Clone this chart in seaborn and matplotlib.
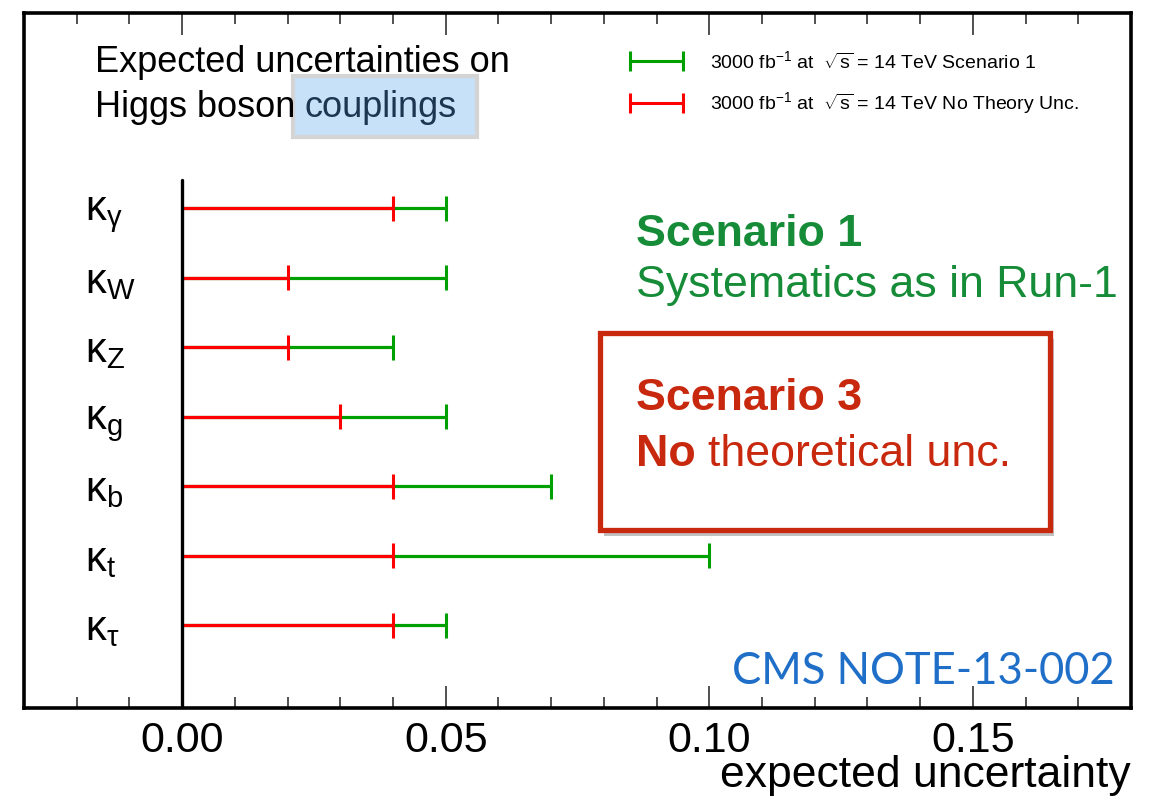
import numpy as np
import pandas as pd
import matplotlib
matplotlib.use("Agg")
import matplotlib.pyplot as plt
import seaborn as sns
from matplotlib.patches import Rectangle
from matplotlib.container import ErrorbarContainer
from matplotlib.collections import LineCollection
from matplotlib.lines import Line2D
from matplotlib.legend_handler import HandlerErrorbar
from matplotlib.ticker import FixedLocator, MultipleLocator
import matplotlib.patheffects as pe

# ---------------- data ----------------
couplings = ["gamma", "W", "Z", "g", "b", "t", "tau"]
coupling_labels = [r"$\mathregular{\kappa_{\gamma}}$", r"$\mathregular{\kappa_{W}}$",
                   r"$\mathregular{\kappa_{Z}}$", r"$\mathregular{\kappa_{g}}$",
                   r"$\mathregular{\kappa_{b}}$", r"$\mathregular{\kappa_{t}}$",
                   r"$\mathregular{\kappa_{\tau}}$"]
scenario1 = [0.05, 0.05, 0.04, 0.05, 0.07, 0.10, 0.05]
no_theory = [0.04, 0.02, 0.02, 0.03, 0.04, 0.04, 0.04]
series_names = [r"3000 fb$^{\mathregular{-1}}$ at  $\mathregular{\sqrt{s}}$ = 14 TeV Scenario 1",
                r"3000 fb$^{\mathregular{-1}}$ at  $\mathregular{\sqrt{s}}$ = 14 TeV No Theory Unc."]
x_ticks = [0.00, 0.05, 0.10, 0.15]
x_tick_labels = ["0.00", "0.05", "0.10", "0.15"]
x_label = "expected uncertainty"

GREEN = "#00a000"
RED = "#ff0000"
palette = {series_names[0]: GREEN, series_names[1]: RED}

W, H = 1157, 798
sns.set_theme(style="white")
plt.rcParams["font.family"] = ["Liberation Sans", "DejaVu Sans"]
plt.rcParams["mathtext.fontset"] = "custom"
plt.rcParams["mathtext.rm"] = "Liberation Sans"
plt.rcParams["mathtext.it"] = "Liberation Sans:italic"
plt.rcParams["mathtext.bf"] = "Liberation Sans:bold"
plt.rcParams["text.color"] = "black"
plt.rcParams["axes.labelcolor"] = "black"
plt.rcParams["xtick.color"] = "black"
plt.rcParams["ytick.color"] = "black"

rows = np.arange(len(couplings))
df = pd.DataFrame({
    "row": np.concatenate([rows, rows]),
    "value": scenario1 + no_theory,
    "scenario": [series_names[0]] * len(rows) + [series_names[1]] * len(rows),
})

fig = plt.figure(figsize=(W / 100, H / 100), dpi=100)
ax = fig.add_axes([24 / W, 1 - 708 / H, (1131 - 24) / W, (708 - 13) / H])

# bars from 0 to value
for name in series_names:
    sub = df[df["scenario"] == name]
    ax.hlines(sub["row"], 0, sub["value"], colors=palette[name], lw=2.3, zorder=2)
# caps
sns.scatterplot(data=df, x="value", y="row", hue="scenario", palette=palette,
                marker="|", s=18 ** 2, linewidth=2.2, legend=False, ax=ax, zorder=3)

ax.axvline(0, ymin=0, ymax=(708 - 180) / (708 - 13), color="black", lw=2.4, zorder=4)

ax.set_xlim(-0.03, 0.18)
ax.set_ylim(7.194, -2.806)
ax.xaxis.set_major_locator(FixedLocator(x_ticks))
ax.set_xticklabels(x_tick_labels)
ax.xaxis.set_minor_locator(MultipleLocator(0.01))
ax.tick_params(axis="x", which="both", direction="in", top=True, bottom=True,
               width=1.1, color="#222222", labelcolor="black", labelsize=31, pad=9)
ax.tick_params(axis="x", which="major", length=16)
ax.tick_params(axis="x", which="minor", length=8)
ax.set_yticks(rows)
ax.set_yticklabels(coupling_labels)
ax.tick_params(axis="y", length=0, pad=-44, labelsize=30, labelcolor="black")
for t in ax.get_yticklabels():
    t.set_horizontalalignment("left")
for s in ax.spines.values():
    s.set_linewidth(2.6)
    s.set_color("black")
ax.set_ylabel("")
ax.set_xlabel("")
fig.text(1131 / W, 1 - 787 / H, x_label, fontsize=32, color="black", ha="right", va="baseline")

# legend with errorbar-style handles
def proxy(color):
    cap = Line2D([], [], color=color, marker="|", markersize=15, markeredgewidth=2.2, linestyle="none")
    bar = LineCollection([], colors=color, linewidths=2.2)
    return ErrorbarContainer((None, (cap,), (bar,)), has_xerr=True, has_yerr=False)

fs = 14
handles = [proxy(GREEN), proxy(RED)]
ax.legend(handles, series_names, loc="upper left",
          bbox_to_anchor=(630 / W, 1 - 50 / H), bbox_transform=fig.transFigure,
          frameon=False, fontsize=fs, handlelength=2.73, handletextpad=1.4,
          labelspacing=0.95, borderpad=0, borderaxespad=0, labelcolor="black",
          handler_map={ErrorbarContainer: HandlerErrorbar(xerr_size=1.36, numpoints=1)})

def px(x, y):
    return x / W, 1 - y / H

# title text
fig.add_artist(Rectangle(px(293, 137), 184 / W, 61 / H, transform=fig.transFigure,
                         facecolor="#c6e1f8", edgecolor="#d4d4d4", lw=3, zorder=2))
fig.text(*px(95, 72), "Expected uncertainties on", fontsize=26, color="black", va="baseline", zorder=3)
fig.text(*px(95, 117), "Higgs boson", fontsize=26, color="black", va="baseline", zorder=3)
fig.text(*px(305, 117), "couplings", fontsize=26, color="#1d3550", va="baseline", zorder=3)

# scenario 1
SC1 = "#168c38"
fig.text(*px(636, 246), "Scenario 1", fontsize=32.2, fontweight="bold", color=SC1, va="baseline")
fig.text(*px(636, 297), "Systematics as in Run-1", fontsize=32.2, color=SC1, va="baseline")

# scenario 3 box
SC3 = "#c8290e"
box = Rectangle(px(600, 530), 450 / W, 197 / H, transform=fig.transFigure,
                facecolor="white", edgecolor=SC3, lw=3.8, zorder=2)
box.set_path_effects([pe.SimplePatchShadow(offset=(3, -4), shadow_rgbFace="#777777", alpha=0.45), pe.Normal()])
fig.add_artist(box)
fig.text(*px(636, 410), "Scenario 3", fontsize=32.2, fontweight="bold", color=SC3, va="baseline", zorder=3)
t_no = fig.text(*px(636, 466), "No", fontsize=32.2, fontweight="bold", color=SC3, va="baseline", zorder=3)
fig.canvas.draw()
bb = t_no.get_window_extent()
fig.text((bb.x1 + 12) / W, 1 - 466 / H, "theoretical unc.", fontsize=32.2, color=SC3, va="baseline", zorder=3)

# CMS note
fig.text(*px(1115, 684), "CMS NOTE-13-002", fontsize=31.4, color="#1f6fc8", family="Lato",
         ha="right", va="baseline", zorder=3)

fig.savefig("out.png", dpi=100)
